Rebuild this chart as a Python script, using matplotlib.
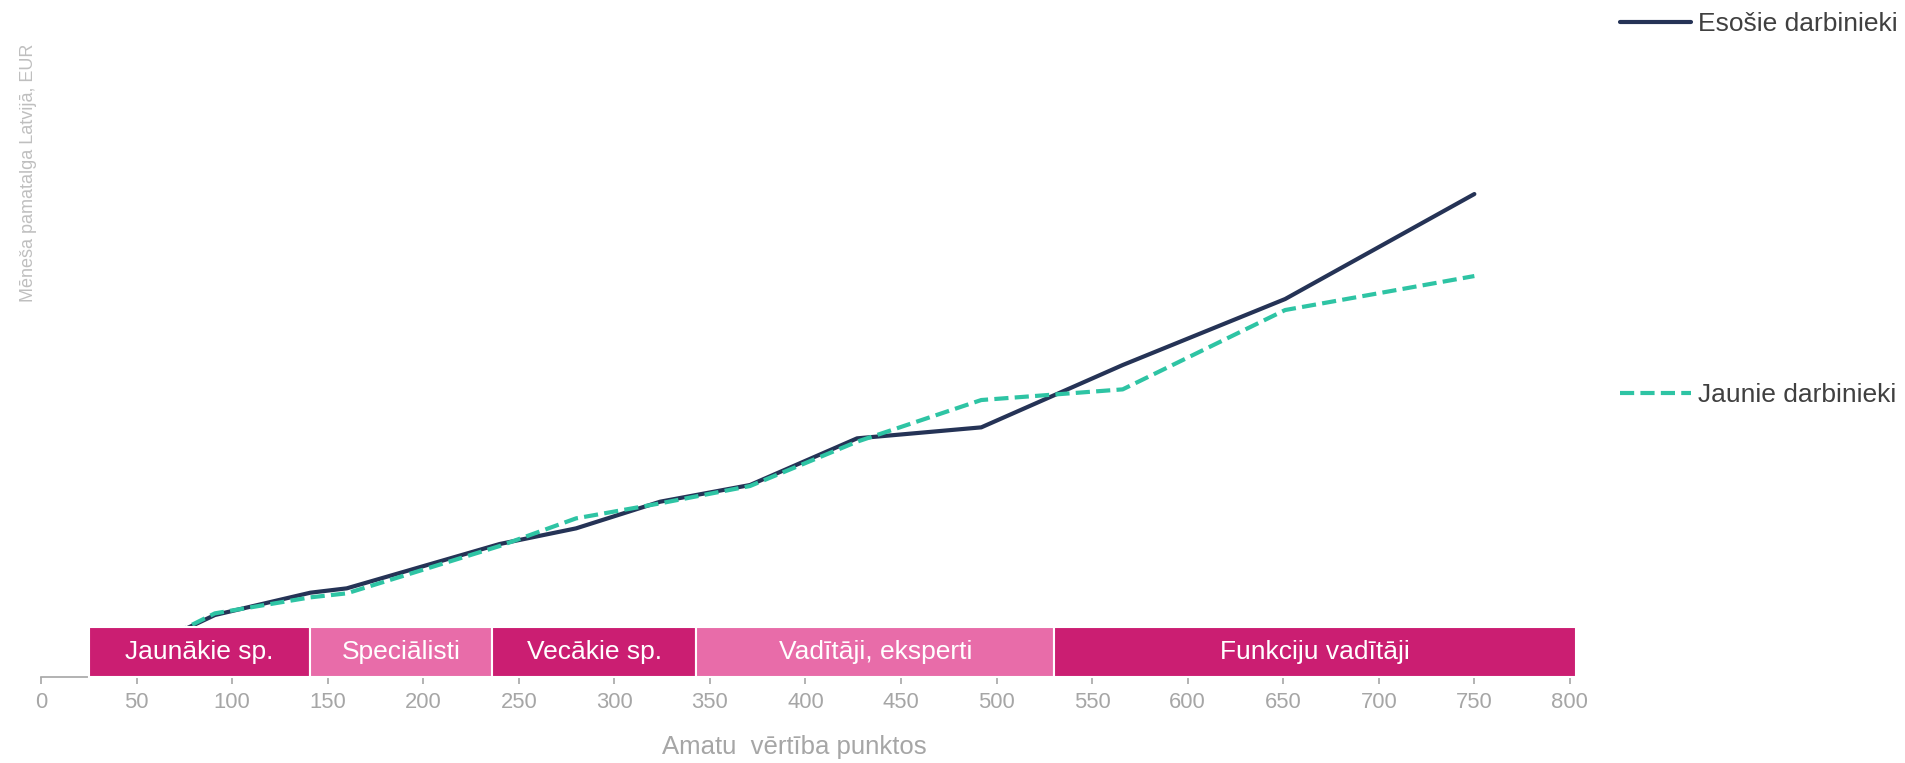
import matplotlib
matplotlib.use("Agg")
import matplotlib.pyplot as plt

plt.rcParams['font.family'] = ['Liberation Sans', 'DejaVu Sans']

# job value points and monthly base salary (EUR)
points = [60, 91, 141, 160, 240, 280, 324, 371, 427, 492, 566, 651, 750]
existing = [604, 772, 906, 932, 1198, 1292, 1452, 1552, 1832, 1898, 2272, 2668, 3298]
new_hires = [604, 782, 878, 902, 1186, 1352, 1442, 1546, 1812, 2062, 2126, 2602, 2806]

# job level bands along the x axis
band_names = ['Jaunākie sp.', 'Speciālisti', 'Vecākie sp.', 'Vadītāji, eksperti', 'Funkciju vadītāji']
band_edges = [25, 141, 236, 343, 530, 803]

x_ticks = list(range(0, 801, 50))

DARK = '#cb1e72'
LIGHT = '#e86ca9'
GREY = '#a6a6a6'

fig = plt.figure(figsize=(19.05, 7.63), dpi=100)
ax = fig.add_axes([0.0215, 0.1127, 0.8026, 0.83])

ax.plot(points, existing, color='#253356', lw=3, solid_capstyle='round',
        label='Esošie darbinieki', zorder=3)
ax.plot(points, new_hires, color='#2ec4a4', lw=3, dashes=(3.4, 1.5),
        label='Jaunie darbinieki', zorder=3)

ax.set_xlim(0, 800)
ax.set_ylim(400, 4200)
band_bottom = 400
band_height = 300
for i, name in enumerate(band_names):
    left = band_edges[i]
    right = band_edges[i + 1]
    ax.bar(left, band_height, width=right - left, bottom=band_bottom, align='edge',
           color=DARK if i % 2 == 0 else LIGHT, edgecolor='white', linewidth=1.5,
           zorder=4, clip_on=False)
    ax.text((left + right) / 2, band_bottom + band_height / 2, name, color='white',
            fontsize=19, ha='center', va='center', zorder=5)

for side in ['top', 'right', 'left']:
    ax.spines[side].set_visible(False)
ax.spines['bottom'].set_color(GREY)
ax.spines['bottom'].set_linewidth(1.2)
ax.set_yticks([])
ax.set_xticks(x_ticks)
ax.tick_params(axis='x', colors=GREY, labelcolor=GREY, labelsize=15.8,
               length=5, width=1.2, pad=6)

ax.set_xlabel('Amatu  vērtība punktos', fontsize=18.5, color=GREY, va='center')
ax.xaxis.set_label_coords(0.493, -0.11)
ax.set_ylabel('Mēneša pamatalga Latvijā, EUR', fontsize=13, color='#bfbfbf', va='center')
ax.yaxis.set_label_coords(-0.008, 0.796)

h, l = ax.get_legend_handles_labels()
for handle, label, ypos in zip(h, l, [0.968, 0.482]):
    leg = fig.legend([handle], [label], loc='center left', bbox_to_anchor=(0.8504, ypos),
                     frameon=False, fontsize=19, handlelength=2.7, handletextpad=0.25,
                     borderpad=0, borderaxespad=0)
    for t in leg.get_texts():
        t.set_color('#404040')

fig.savefig('out.png', dpi=100)
